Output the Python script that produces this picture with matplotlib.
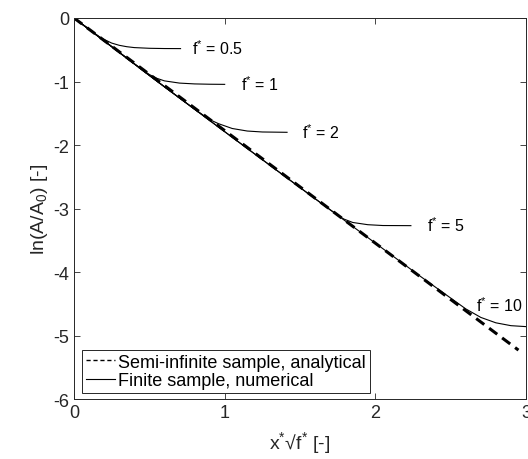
import numpy as np
import matplotlib
matplotlib.use("Agg")
from matplotlib import pyplot as plt
from matplotlib.lines import Line2D

plt.rcParams['font.family'] = ['Liberation Sans', 'DejaVu Sans']
plt.rcParams['mathtext.fontset'] = 'custom'
plt.rcParams['mathtext.rm'] = 'Liberation Sans'
plt.rcParams['mathtext.it'] = 'Liberation Sans'

# Semi-infinite sample, analytical (straight line)
x_analytical = [0.0, 2.95]
y_analytical = [0.0, -5.23]

# Finite sample, numerical curves
x_f05 = [0.0, 0.10, 0.18, 0.25, 0.30, 0.35, 0.40, 0.50, 0.60, 0.707]
y_f05 = [0.0, -0.177, -0.315, -0.395, -0.430, -0.452, -0.466, -0.477, -0.481, -0.482]

x_f1 = [0.0, 0.20, 0.40, 0.50, 0.55, 0.60, 0.70, 0.80, 0.90, 1.0]
y_f1 = [0.0, -0.360, -0.720, -0.890, -0.950, -0.990, -1.025, -1.038, -1.043, -1.045]

x_f2 = [0.0, 0.30, 0.60, 0.80, 0.90, 0.96, 1.05, 1.15, 1.25, 1.414]
y_f2 = [0.0, -0.540, -1.085, -1.435, -1.600, -1.665, -1.740, -1.780, -1.795, -1.800]

x_f5 = [0.0, 0.50, 1.00, 1.40, 1.70, 1.79, 1.85, 1.95, 2.05, 2.236]
y_f5 = [0.0, -0.905, -1.790, -2.495, -3.020, -3.165, -3.220, -3.255, -3.268, -3.270]

x_f10 = [0.0, 0.50, 1.00, 1.50, 2.00, 2.30, 2.50, 2.60, 2.70, 2.80, 2.90, 3.0]
y_f10 = [0.0, -0.905, -1.790, -2.670, -3.545, -4.070, -4.410, -4.580, -4.715, -4.800, -4.845, -4.860]

f_labels = ['0.5', '1', '2', '5', '10']
label_x = [0.78, 1.11, 1.515, 2.345, 2.67]
label_y = [-0.46, -1.03, -1.79, -3.25, -4.52]

axisColor = '#262626'

fig = plt.figure(figsize=(5.28, 4.6), dpi=100)
ax = fig.add_axes([0.1402, 0.1304, 0.856, 0.8283])

ax.plot(x_analytical, y_analytical, color='k', lw=2.2, ls=(0, (3.3, 2.0)))
for xs, ys in [(x_f05, y_f05), (x_f1, y_f1), (x_f2, y_f2), (x_f5, y_f5), (x_f10, y_f10)]:
    ax.plot(xs, ys, color='k', lw=0.8)

for lab, lx, ly in zip(f_labels, label_x, label_y):
    ax.text(lx, ly, r'f$^{*}$ = ' + lab, fontsize=11.5, va='center', ha='left', color='k')

ax.set_xlim(0, 3)
ax.set_ylim(-6, 0)
ax.set_xticks([0, 1, 2, 3])
ax.set_yticks([0, -1, -2, -3, -4, -5, -6])
ax.set_yticklabels(['0', '-1', '-2', '-3', '-4', '-5', '-6'])
ax.tick_params(direction='in', top=True, right=True, labelsize=13, colors=axisColor, length=4, width=0.6)
for sp in ax.spines.values():
    sp.set_color(axisColor)
    sp.set_linewidth(0.7)

ax.set_xlabel(r'x$^{*}$√f$^{*}$ [-]', fontsize=14, color=axisColor, labelpad=6)
ax.set_ylabel(r'ln(A/A$_{0}$) [-]', fontsize=14, color=axisColor, labelpad=2)

handles = [Line2D([], [], color='k', lw=1.0, ls=(0, (3, 2))),
           Line2D([], [], color='k', lw=0.8)]
leg = ax.legend(handles, ['Semi-infinite sample, analytical', 'Finite sample, numerical'],
                loc='lower left', bbox_to_anchor=(0.018, 0.016), fontsize=13,
                fancybox=False, framealpha=1, edgecolor=axisColor, handlelength=1.6,
                handletextpad=0.2, borderpad=0.2, labelspacing=0.1, borderaxespad=0)
leg.get_frame().set_linewidth(0.7)

fig.savefig('out.png', dpi=100)
